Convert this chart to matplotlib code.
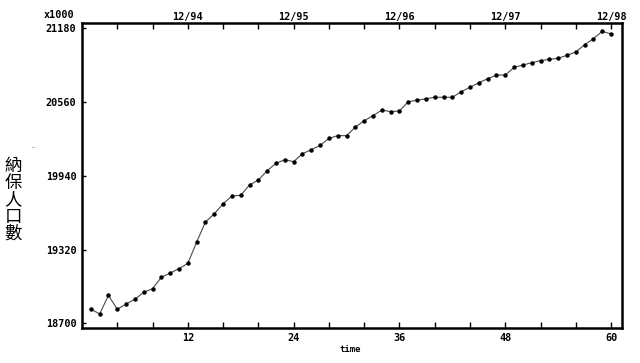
import numpy as np
import matplotlib.pyplot as plt

# monthly observations (thousands of people)
months = np.arange(1, 61)
population = [
    18820, 18778, 18935, 18818, 18862, 18902, 18961, 18991, 19087, 19123,
    19159, 19204, 19383, 19552, 19620, 19705, 19770, 19776, 19863, 19905,
    19983, 20045, 20075, 20059, 20126, 20159, 20196, 20254, 20278, 20277,
    20350, 20403, 20445, 20493, 20479, 20485, 20563, 20575, 20588, 20600,
    20600, 20600, 20647, 20684, 20723, 20756, 20787, 20787, 20852, 20871,
    20891, 20908, 20919, 20928, 20953, 20981, 21042, 21093, 21155, 21132,
]
x_ticks = [12, 24, 36, 48, 60]
top_labels = ["12/94", "12/95", "12/96", "12/97", "12/98"]
y_ticks = [18700, 19320, 19940, 20560, 21180]

mono = dict(family="DejaVu Sans Mono", weight="bold", size=7.3)

fig = plt.figure(figsize=(6.4, 3.63), dpi=100)
ax = fig.add_axes([82 / 640, 1 - 327.7 / 363, (621.7 - 82) / 640, (327.7 - 23.3) / 363])

ax.plot(months, population, color="#4a4a4a", lw=0.8, marker="o", ms=2.2,
        mfc="black", mec="black", zorder=3)

ax.set_xlim(0, 61.2)
ax.set_ylim(18663, 21222)

ax.set_xticks(x_ticks)
ax.set_xticks(np.arange(4, 61, 4), minor=True)
ax.set_yticks(y_ticks)
ax.set_xticklabels([str(v) for v in x_ticks], fontdict=mono)
ax.set_yticklabels([str(v) for v in y_ticks], fontdict=mono)
ax.tick_params(which="both", direction="in", length=4, width=1, top=True, pad=4)
ax.tick_params(axis="y", length=3)

for s in ax.spines.values():
    s.set_linewidth(1.8)

# date labels along the top edge
for xv, lab in zip(x_ticks, top_labels):
    ax.text(xv, 1.005, lab, transform=ax.get_xaxis_transform(), ha="center",
            va="bottom", **mono)

fig.text(59 / 640, 1 - 15 / 363, "x1000", ha="center", va="center", **mono)
fig.text(350 / 640, 1 - 350 / 363, "time", ha="center", va="center",
         family="DejaVu Sans Mono", weight="bold", size=6.5)
fig.text(33 / 640, 1 - 148 / 363, "-", ha="center", va="center", size=6, color="#888888")

fig.text(13 / 640, 1 - 200 / 363, "\n".join("納保人口數"), ha="center", va="center",
         family=["Noto Sans CJK TC", "DejaVu Sans"], size=12.5, linespacing=0.92)

fig.savefig("out.png", dpi=100)
